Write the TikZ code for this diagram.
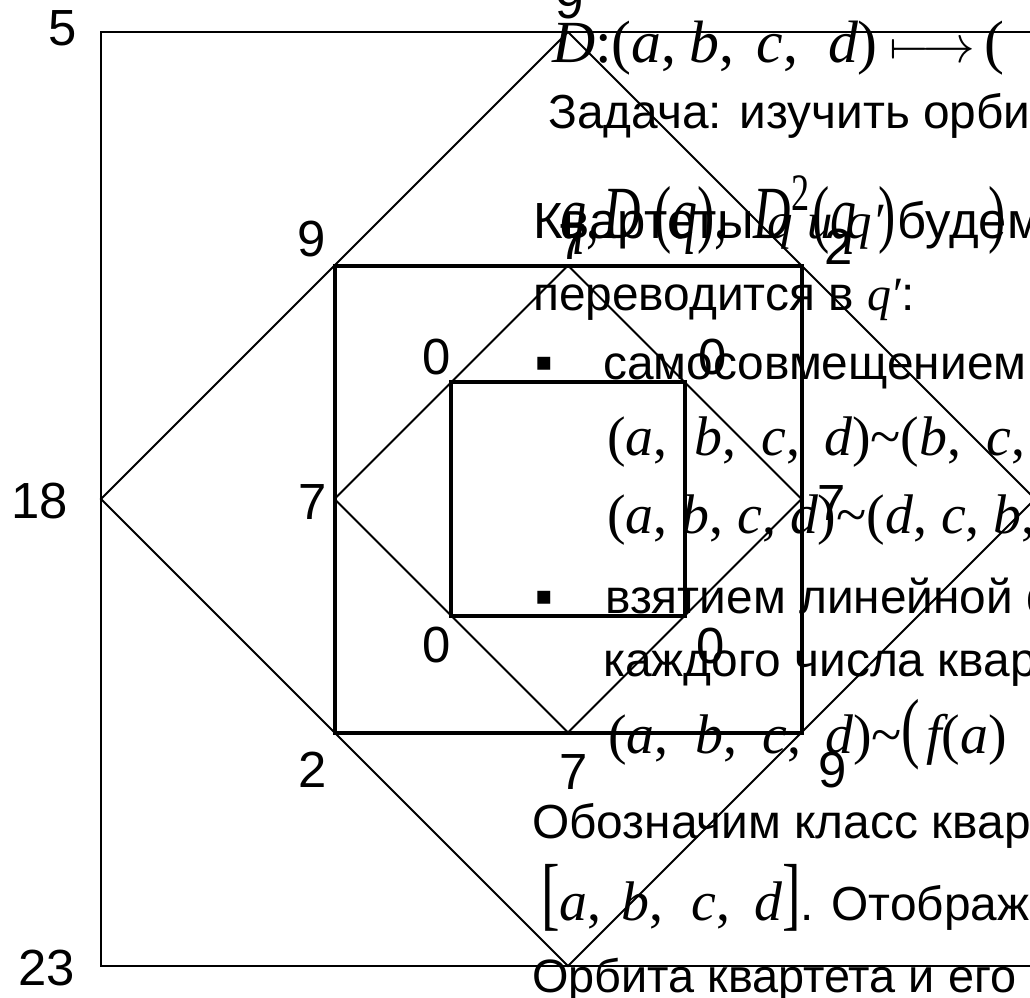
\RequirePackage{fix-cm}
\documentclass[tikz,border=0pt]{standalone}
\usepackage{fontspec}
\usepackage{graphicx}
\setmainfont{Liberation Sans}
\newfontfamily\tnr{Liberation Serif}
\newfontfamily\djv{DejaVu Sans}
\newcommand\mi[1]{{\tnr\itshape #1}}
\newcommand\vstretch[2]{\scalebox{1}[#1]{#2}}
\begin{document}
\begin{tikzpicture}[x=1bp,y=-1bp,
  edgethin/.style={line width=1.8bp, line join=miter},
  edgebold/.style={line width=4bp, line join=miter},
  lab/.style={inner sep=0pt, font=\fontsize{51}{60}\selectfont},
  txt/.style={anchor=base west, inner sep=0pt, font=\fontsize{48}{56}\selectfont},
  mtxt/.style={anchor=base west, inner sep=0pt, font=\tnr\fontsize{56}{64}\selectfont},
  bul/.style={inner sep=0pt, font=\djv\fontsize{26}{30}\selectfont}]
\clip (0,0) rectangle (1030,998);
% outer square
\coordinate (S1a) at (101,32);   \coordinate (S1b) at (1035,32);
\coordinate (S1c) at (1035,966); \coordinate (S1d) at (101,966);
% outer diamond
\coordinate (D1l) at (101,499);  \coordinate (D1t) at (568,32);
\coordinate (D1r) at (1035,499); \coordinate (D1b) at (568,966);
% second square
\coordinate (S2a) at (334.5,265.5); \coordinate (S2b) at (801.5,265.5);
\coordinate (S2c) at (801.5,732.5); \coordinate (S2d) at (334.5,732.5);
% second diamond
\coordinate (D2l) at (334.5,499); \coordinate (D2t) at (568,265.5);
\coordinate (D2r) at (801.5,499); \coordinate (D2b) at (568,732.5);
% inner square
\coordinate (S3a) at (451.25,382.25); \coordinate (S3b) at (684.75,382.25);
\coordinate (S3c) at (684.75,615.75); \coordinate (S3d) at (451.25,615.75);

\draw[edgethin] (S1a) -- (S1b) -- (S1c) -- (S1d) -- cycle;
\draw[edgethin] (D1l) -- (D1t) -- (D1r) -- (D1b) -- cycle;
\draw[edgebold] (S2a) -- (S2b) -- (S2c) -- (S2d) -- cycle;
\draw[edgethin] (D2l) -- (D2t) -- (D2r) -- (D2b) -- cycle;
\draw[edgebold] (S3a) -- (S3b) -- (S3c) -- (S3d) -- cycle;

% corner labels
\node[lab] (n5)  at (63,28)   {5};
\node[lab] (n23) at (47,968)  {23};
\node[lab] (n18) at (40,501)  {18};
\node[lab] (n9t) at (570,1)   {9};
\node[lab] (n9a) at (312,239) {9};
\node[lab] (n2a) at (839,247) {2};
\node[lab] (n9b) at (833,770) {9};
\node[lab] (n2b) at (313,770) {2};
\node[lab] (n7t) at (573,242) {7};
\node[lab] (n7l) at (313,502) {7};
\node[lab] (n7r) at (832,503) {7};
\node[lab] (n7b) at (574,772) {7};
\node[lab] (n0a) at (437,357) {0};
\node[lab] (n0b) at (713,357) {0};
\node[lab] (n0c) at (437,645) {0};
\node[lab] (n0d) at (711,646) {0};

% slide text
\node[mtxt, font=\tnr\fontsize{60}{70}\selectfont] (l1) at (552,62)
  {\mi{D}:(\mi{a},\hspace{13bp}\mi{b},\hspace{22bp}\mi{c},\hspace{30bp}\mi{d})\hspace{12bp}{\fontsize{53}{60}\selectfont$\longmapsto$}\hspace{10bp}(};
\node[txt] (l2) at (548,128) {Задача: изучить орби};
\node[mtxt, font=\tnr\fontsize{52}{60}\selectfont] (l3) at (560,238)
  {\vstretch{1.45}{\mi{q},\hspace{4bp}\mi{D}\hspace{14bp}(\mi{q}),\hspace{26bp}\mi{D}\textsuperscript{2}\hspace{3bp}(\mi{q}\hspace{22bp})}};
\node[mtxt, font=\tnr\fontsize{52}{60}\selectfont] (l3b) at (988,238) {\vstretch{1.45}{)}};
\node[txt, font=\fontsize{51}{60}\selectfont] (l3t) at (533,238) {Квартеты \mi{q} \mi{и} \mi{q′} будем};
\node[txt] (l4) at (533,310) {переводится в \mi{q′}:};
\node[bul] (b1) at (544,364) {▪};
\node[txt] (l5) at (603,379) {самосовмещением};
\node[mtxt] (l6) at (607,455)
  {(\mi{a},\hspace{27bp}\mi{b},\hspace{25bp}\mi{c},\hspace{24bp}\mi{d})\symbol{126}(\mi{b},\hspace{25bp}\mi{c},};
\node[mtxt] (l7) at (607,533)
  {(\mi{a}, \mi{b}, \mi{c}, \mi{d})\symbol{126}(\mi{d}, \mi{c}, \mi{b},};
\node[bul] (b2) at (544,598) {▪};
\node[txt] (l8) at (605,613) {взятием линейной ф};
\node[txt] (l9) at (603,676) {каждого числа квар};
\node[mtxt] (l10) at (608,753)
  {(\mi{a},\hspace{27bp}\mi{b},\hspace{25bp}\mi{c},\hspace{24bp}\mi{d})\symbol{126}\vstretch{1.4}{(}\hspace{6bp}\mi{f}(\mi{a})};
\node[txt] (l11) at (532,838) {Обозначим класс квар};
\node[mtxt] (l12) at (541,920)
  {\vstretch{1.45}{[}\mi{a},\hspace{20bp}\mi{b},\hspace{28bp}\mi{c},\hspace{24bp}\mi{d}\vstretch{1.45}{]}{\fontsize{48}{56}\selectfont\rmfamily. Отображ}};
\node[txt, font=\fontsize{47}{56}\selectfont] (l13) at (532,992) {Орбита квартета и его};
\end{tikzpicture}
\end{document}
